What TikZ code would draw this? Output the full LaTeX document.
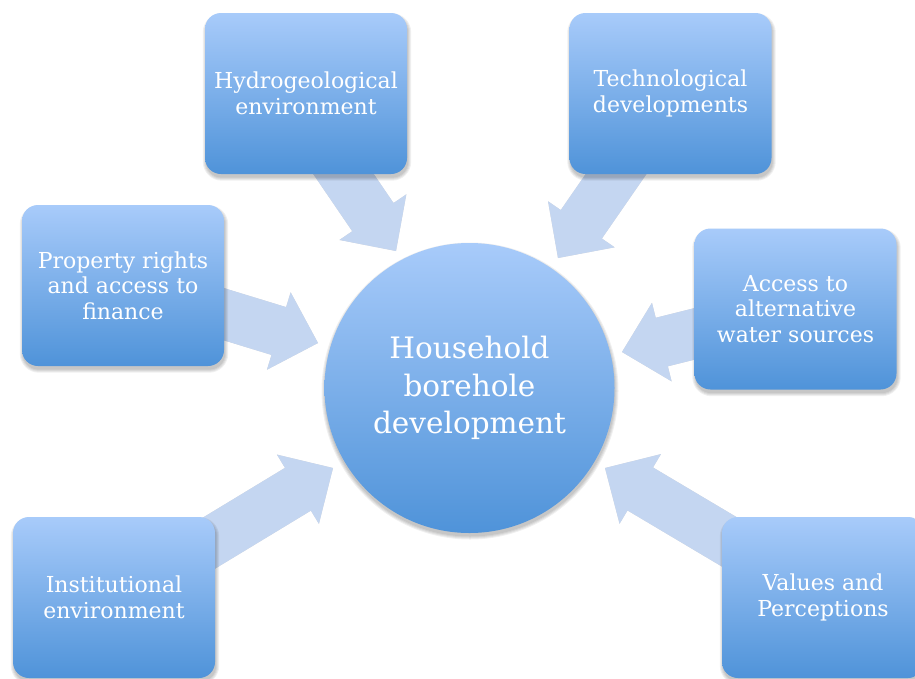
\documentclass[tikz,border=0pt]{standalone}
\usepackage{fontspec}
\setmainfont{DejaVu Serif}
\usetikzlibrary{calc}
\definecolor{boxtop}{HTML}{A8CBFA}
\definecolor{boxbot}{HTML}{4F93D9}
\definecolor{arrowfill}{HTML}{C4D6F1}
\pgfdeclarelayer{paper}
\pgfdeclarelayer{background}
\pgfdeclarelayer{shade}
\pgfsetlayers{paper,background,shade,main}
\tikzset{
  factor/.style={rectangle, rounded corners=16pt, minimum width=202pt, minimum height=161pt,
    top color=boxtop, bottom color=boxbot, text=white, align=center,
    font=\fontsize{22}{25.5}\selectfont, inner sep=0pt},
  hub/.style={circle, minimum size=290pt, top color=boxtop, bottom color=boxbot,
    text=white, align=center, font=\fontsize{29.5}{37.5}\selectfont, inner sep=0pt},
  softdark/.style={fill=black, opacity=0.06},
  barrow/.style={fill=arrowfill}
}
\newcommand\arrowpath[2]{($(#1)!25pt!90:(#2)$) -- ($(#1n)!25pt!90:(#2)$) -- ($(#1n)!40.5pt!90:(#2)$)
    -- (#2) -- ($(#1n)!40.5pt!-90:(#2)$) -- ($(#1n)!25pt!-90:(#2)$) -- ($(#1)!25pt!-90:(#2)$) -- cycle}
\newcommand\blockarrow[2]{%
  \coordinate (#1n) at ($(#2)!41pt!(#1)$);
  \begin{scope}[shift={(1.5,3.5)}]
    \fill[black, opacity=0.10] \arrowpath{#1}{#2};
  \end{scope}
  \begin{scope}[shift={(1,2)}]
    \fill[black, opacity=0.06] \arrowpath{#1}{#2};
  \end{scope}
  \path[barrow] \arrowpath{#1}{#2};}
\newcommand\boxshadow[1]{%
  \foreach \k in {0,1,2,3}
    \fill[softdark, rounded corners={16pt+\k pt}]
      ($(#1.north west)+(1-\k,3.5-\k)$) rectangle ($(#1.south east)+(1+\k,3.5+\k)$);}
\begin{document}
\begin{tikzpicture}[x=1pt,y=-1pt]
\useasboundingbox (0,0) rectangle (915,678);
\begin{pgfonlayer}{paper}
\fill[white] (0,0) rectangle (915,678);
\end{pgfonlayer}
\clip (0,0) rectangle (915,678);
% hub
\node[hub] (hub) at (469.5,388) {Household\\borehole\\development};
% factors
\node[factor] (hydro) at (306,93.5) {Hydrogeological\\environment};
\node[factor] (tech) at (670.5,93.5) {Technological\\developments};
\node[factor] (prop) at (123,285.5) {Property rights\\and access to\\finance};
\node[factor] (alt) at (795.5,309) {Access to\\alternative\\water sources};
\node[factor] (inst) at (114,597.5) {Institutional\\environment};
\node[factor] (vals) at (823,597.5) {Values and\\Perceptions};
% arrow ends
\coordinate (t1) at (323,144);  \coordinate (p1) at (396,251);
\coordinate (t2) at (632,151);  \coordinate (p2) at (558,258);
\coordinate (t3) at (184,302);  \coordinate (p3) at (318,343);
\coordinate (t4) at (758,318);  \coordinate (p4) at (622,352);
\coordinate (t5) at (196,551);  \coordinate (p5) at (333,468);
\coordinate (t6) at (743,550);  \coordinate (p6) at (605,468);
\begin{pgfonlayer}{background}
\blockarrow{t1}{p1}
\blockarrow{t2}{p2}
\blockarrow{t3}{p3}
\blockarrow{t4}{p4}
\blockarrow{t5}{p5}
\blockarrow{t6}{p6}
\end{pgfonlayer}
\begin{pgfonlayer}{shade}
\foreach \r in {145.5,146.5,147.5,148.5}
  \fill[softdark] ($(hub.center)+(0.5,3)$) circle[radius=\r];
\boxshadow{hydro}
\boxshadow{tech}
\boxshadow{prop}
\boxshadow{alt}
\boxshadow{inst}
\boxshadow{vals}
\end{pgfonlayer}
\end{tikzpicture}
\end{document}
